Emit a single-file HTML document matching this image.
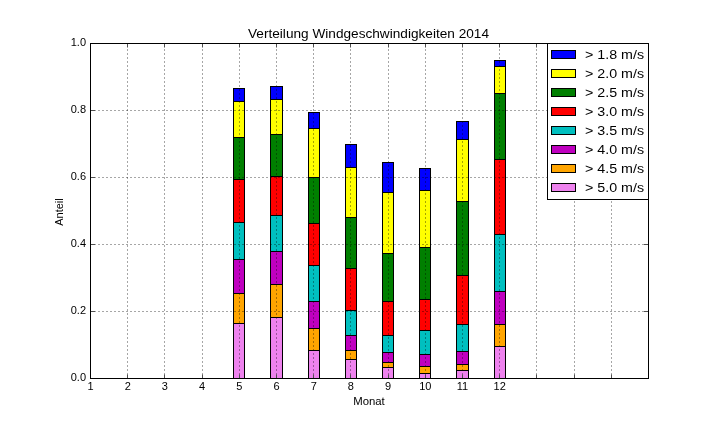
<!DOCTYPE html><html><head><meta charset="utf-8"><style>html,body{margin:0;padding:0;background:#fff;overflow:hidden}svg{display:block;will-change:transform}text{font-family:"Liberation Sans",sans-serif;fill:#000}</style></head><body>
<svg width="720" height="432" viewBox="0 0 720 432">
<rect x="0" y="0" width="720" height="432" fill="#fff"/>
<rect x="233.5" y="88.5" width="11.0" height="13.0" fill="#0000ff" stroke="#000" stroke-width="1"/>
<rect x="233.5" y="101.5" width="11.0" height="36.0" fill="#ffff00" stroke="#000" stroke-width="1"/>
<rect x="233.5" y="137.5" width="11.0" height="42.0" fill="#007f00" stroke="#000" stroke-width="1"/>
<rect x="233.5" y="179.5" width="11.0" height="43.0" fill="#ff0000" stroke="#000" stroke-width="1"/>
<rect x="233.5" y="222.5" width="11.0" height="37.0" fill="#00bfbf" stroke="#000" stroke-width="1"/>
<rect x="233.5" y="259.5" width="11.0" height="34.0" fill="#bf00bf" stroke="#000" stroke-width="1"/>
<rect x="233.5" y="293.5" width="11.0" height="30.0" fill="#ffa500" stroke="#000" stroke-width="1"/>
<rect x="233.5" y="323.5" width="11.0" height="55.0" fill="#ee82ee" stroke="#000" stroke-width="1"/>
<rect x="270.5" y="86.5" width="12.0" height="13.0" fill="#0000ff" stroke="#000" stroke-width="1"/>
<rect x="270.5" y="99.5" width="12.0" height="35.0" fill="#ffff00" stroke="#000" stroke-width="1"/>
<rect x="270.5" y="134.5" width="12.0" height="42.0" fill="#007f00" stroke="#000" stroke-width="1"/>
<rect x="270.5" y="176.5" width="12.0" height="39.0" fill="#ff0000" stroke="#000" stroke-width="1"/>
<rect x="270.5" y="215.5" width="12.0" height="36.0" fill="#00bfbf" stroke="#000" stroke-width="1"/>
<rect x="270.5" y="251.5" width="12.0" height="33.0" fill="#bf00bf" stroke="#000" stroke-width="1"/>
<rect x="270.5" y="284.5" width="12.0" height="33.0" fill="#ffa500" stroke="#000" stroke-width="1"/>
<rect x="270.5" y="317.5" width="12.0" height="61.0" fill="#ee82ee" stroke="#000" stroke-width="1"/>
<rect x="308.5" y="112.5" width="11.0" height="16.0" fill="#0000ff" stroke="#000" stroke-width="1"/>
<rect x="308.5" y="128.5" width="11.0" height="49.0" fill="#ffff00" stroke="#000" stroke-width="1"/>
<rect x="308.5" y="177.5" width="11.0" height="46.0" fill="#007f00" stroke="#000" stroke-width="1"/>
<rect x="308.5" y="223.5" width="11.0" height="42.0" fill="#ff0000" stroke="#000" stroke-width="1"/>
<rect x="308.5" y="265.5" width="11.0" height="36.0" fill="#00bfbf" stroke="#000" stroke-width="1"/>
<rect x="308.5" y="301.5" width="11.0" height="27.0" fill="#bf00bf" stroke="#000" stroke-width="1"/>
<rect x="308.5" y="328.5" width="11.0" height="22.0" fill="#ffa500" stroke="#000" stroke-width="1"/>
<rect x="308.5" y="350.5" width="11.0" height="28.0" fill="#ee82ee" stroke="#000" stroke-width="1"/>
<rect x="345.5" y="144.5" width="11.0" height="23.0" fill="#0000ff" stroke="#000" stroke-width="1"/>
<rect x="345.5" y="167.5" width="11.0" height="50.0" fill="#ffff00" stroke="#000" stroke-width="1"/>
<rect x="345.5" y="217.5" width="11.0" height="51.0" fill="#007f00" stroke="#000" stroke-width="1"/>
<rect x="345.5" y="268.5" width="11.0" height="42.0" fill="#ff0000" stroke="#000" stroke-width="1"/>
<rect x="345.5" y="310.5" width="11.0" height="25.0" fill="#00bfbf" stroke="#000" stroke-width="1"/>
<rect x="345.5" y="335.5" width="11.0" height="15.0" fill="#bf00bf" stroke="#000" stroke-width="1"/>
<rect x="345.5" y="350.5" width="11.0" height="9.0" fill="#ffa500" stroke="#000" stroke-width="1"/>
<rect x="345.5" y="359.5" width="11.0" height="19.0" fill="#ee82ee" stroke="#000" stroke-width="1"/>
<rect x="382.5" y="162.5" width="11.0" height="30.0" fill="#0000ff" stroke="#000" stroke-width="1"/>
<rect x="382.5" y="192.5" width="11.0" height="61.0" fill="#ffff00" stroke="#000" stroke-width="1"/>
<rect x="382.5" y="253.5" width="11.0" height="48.0" fill="#007f00" stroke="#000" stroke-width="1"/>
<rect x="382.5" y="301.5" width="11.0" height="34.0" fill="#ff0000" stroke="#000" stroke-width="1"/>
<rect x="382.5" y="335.5" width="11.0" height="17.0" fill="#00bfbf" stroke="#000" stroke-width="1"/>
<rect x="382.5" y="352.5" width="11.0" height="10.0" fill="#bf00bf" stroke="#000" stroke-width="1"/>
<rect x="382.5" y="362.5" width="11.0" height="5.0" fill="#ffa500" stroke="#000" stroke-width="1"/>
<rect x="382.5" y="367.5" width="11.0" height="11.0" fill="#ee82ee" stroke="#000" stroke-width="1"/>
<rect x="419.5" y="168.5" width="11.0" height="22.0" fill="#0000ff" stroke="#000" stroke-width="1"/>
<rect x="419.5" y="190.5" width="11.0" height="57.0" fill="#ffff00" stroke="#000" stroke-width="1"/>
<rect x="419.5" y="247.5" width="11.0" height="52.0" fill="#007f00" stroke="#000" stroke-width="1"/>
<rect x="419.5" y="299.5" width="11.0" height="31.0" fill="#ff0000" stroke="#000" stroke-width="1"/>
<rect x="419.5" y="330.5" width="11.0" height="24.0" fill="#00bfbf" stroke="#000" stroke-width="1"/>
<rect x="419.5" y="354.5" width="11.0" height="12.0" fill="#bf00bf" stroke="#000" stroke-width="1"/>
<rect x="419.5" y="366.5" width="11.0" height="7.0" fill="#ffa500" stroke="#000" stroke-width="1"/>
<rect x="419.5" y="373.5" width="11.0" height="5.0" fill="#ee82ee" stroke="#000" stroke-width="1"/>
<rect x="456.5" y="121.5" width="12.0" height="18.0" fill="#0000ff" stroke="#000" stroke-width="1"/>
<rect x="456.5" y="139.5" width="12.0" height="62.0" fill="#ffff00" stroke="#000" stroke-width="1"/>
<rect x="456.5" y="201.5" width="12.0" height="74.0" fill="#007f00" stroke="#000" stroke-width="1"/>
<rect x="456.5" y="275.5" width="12.0" height="49.0" fill="#ff0000" stroke="#000" stroke-width="1"/>
<rect x="456.5" y="324.5" width="12.0" height="27.0" fill="#00bfbf" stroke="#000" stroke-width="1"/>
<rect x="456.5" y="351.5" width="12.0" height="13.0" fill="#bf00bf" stroke="#000" stroke-width="1"/>
<rect x="456.5" y="364.5" width="12.0" height="6.0" fill="#ffa500" stroke="#000" stroke-width="1"/>
<rect x="456.5" y="370.5" width="12.0" height="8.0" fill="#ee82ee" stroke="#000" stroke-width="1"/>
<rect x="494.5" y="60.5" width="11.0" height="6.0" fill="#0000ff" stroke="#000" stroke-width="1"/>
<rect x="494.5" y="66.5" width="11.0" height="27.0" fill="#ffff00" stroke="#000" stroke-width="1"/>
<rect x="494.5" y="93.5" width="11.0" height="66.0" fill="#007f00" stroke="#000" stroke-width="1"/>
<rect x="494.5" y="159.5" width="11.0" height="75.0" fill="#ff0000" stroke="#000" stroke-width="1"/>
<rect x="494.5" y="234.5" width="11.0" height="57.0" fill="#00bfbf" stroke="#000" stroke-width="1"/>
<rect x="494.5" y="291.5" width="11.0" height="33.0" fill="#bf00bf" stroke="#000" stroke-width="1"/>
<rect x="494.5" y="324.5" width="11.0" height="22.0" fill="#ffa500" stroke="#000" stroke-width="1"/>
<rect x="494.5" y="346.5" width="11.0" height="32.0" fill="#ee82ee" stroke="#000" stroke-width="1"/>
<path d="M127.5 379V43.5 M164.5 379V43.5 M202.5 379V43.5 M239.5 379V43.5 M276.5 379V43.5 M313.5 379V43.5 M350.5 379V43.5 M388.5 379V43.5 M425.5 379V43.5 M462.5 379V43.5 M499.5 379V43.5 M536.5 379V43.5 M574.5 379V43.5 M611.5 379V43.5 M90 311.5H648.5 M90 244.5H648.5 M90 177.5H648.5 M90 110.5H648.5" stroke="#000" stroke-opacity="0.35" stroke-width="1" stroke-dasharray="2 2" fill="none"/>
<path d="M127.5 378.5v-4M127.5 43.5v4 M164.5 378.5v-4M164.5 43.5v4 M202.5 378.5v-4M202.5 43.5v4 M239.5 378.5v-4M239.5 43.5v4 M276.5 378.5v-4M276.5 43.5v4 M313.5 378.5v-4M313.5 43.5v4 M350.5 378.5v-4M350.5 43.5v4 M388.5 378.5v-4M388.5 43.5v4 M425.5 378.5v-4M425.5 43.5v4 M462.5 378.5v-4M462.5 43.5v4 M499.5 378.5v-4M499.5 43.5v4 M536.5 378.5v-4M536.5 43.5v4 M574.5 378.5v-4M574.5 43.5v4 M611.5 378.5v-4M611.5 43.5v4 M90.5 311.5h4.5M648.5 311.5h-4.5 M90.5 244.5h4.5M648.5 244.5h-4.5 M90.5 177.5h4.5M648.5 177.5h-4.5 M90.5 110.5h4.5M648.5 110.5h-4.5" stroke="#505050" stroke-width="1" fill="none"/>
<rect x="90.5" y="43.5" width="558.0" height="335.0" fill="none" stroke="#000" stroke-width="1"/>
<text x="86" y="381.1" font-size="11" text-anchor="end">0.0</text>
<text x="86" y="314.1" font-size="11" text-anchor="end">0.2</text>
<text x="86" y="247.1" font-size="11" text-anchor="end">0.4</text>
<text x="86" y="180.1" font-size="11" text-anchor="end">0.6</text>
<text x="86" y="113.1" font-size="11" text-anchor="end">0.8</text>
<text x="86" y="46.1" font-size="11" text-anchor="end">1.0</text>
<text x="90.50" y="390" font-size="11" text-anchor="middle">1</text>
<text x="127.70" y="390" font-size="11" text-anchor="middle">2</text>
<text x="164.90" y="390" font-size="11" text-anchor="middle">3</text>
<text x="202.10" y="390" font-size="11" text-anchor="middle">4</text>
<text x="239.30" y="390" font-size="11" text-anchor="middle">5</text>
<text x="276.50" y="390" font-size="11" text-anchor="middle">6</text>
<text x="313.70" y="390" font-size="11" text-anchor="middle">7</text>
<text x="350.90" y="390" font-size="11" text-anchor="middle">8</text>
<text x="388.10" y="390" font-size="11" text-anchor="middle">9</text>
<text x="425.30" y="390" font-size="11" text-anchor="middle">10</text>
<text x="462.50" y="390" font-size="11" text-anchor="middle">11</text>
<text x="499.70" y="390" font-size="11" text-anchor="middle">12</text>
<text x="368.5" y="38.2" font-size="12" text-anchor="middle" textLength="241" lengthAdjust="spacingAndGlyphs">Verteilung Windgeschwindigkeiten 2014</text>
<text x="369" y="405" font-size="11" text-anchor="middle" textLength="31.6" lengthAdjust="spacingAndGlyphs">Monat</text>
<text transform="translate(63.2 212) rotate(-90)" x="0" y="0" font-size="11" text-anchor="middle">Anteil</text>
<rect x="547.5" y="43.5" width="101" height="156" fill="#fff" stroke="#000" stroke-width="1"/>
<rect x="551.5" y="50.5" width="24" height="8" fill="#0000ff" stroke="#000" stroke-width="1"/>
<text x="585" y="59.20" font-size="12" textLength="59" lengthAdjust="spacingAndGlyphs">&gt; 1.8 m/s</text>
<rect x="551.5" y="69.5" width="24" height="8" fill="#ffff00" stroke="#000" stroke-width="1"/>
<text x="585" y="78.20" font-size="12" textLength="59" lengthAdjust="spacingAndGlyphs">&gt; 2.0 m/s</text>
<rect x="551.5" y="88.5" width="24" height="8" fill="#007f00" stroke="#000" stroke-width="1"/>
<text x="585" y="97.20" font-size="12" textLength="59" lengthAdjust="spacingAndGlyphs">&gt; 2.5 m/s</text>
<rect x="551.5" y="107.5" width="24" height="8" fill="#ff0000" stroke="#000" stroke-width="1"/>
<text x="585" y="116.20" font-size="12" textLength="59" lengthAdjust="spacingAndGlyphs">&gt; 3.0 m/s</text>
<rect x="551.5" y="126.5" width="24" height="8" fill="#00bfbf" stroke="#000" stroke-width="1"/>
<text x="585" y="135.20" font-size="12" textLength="59" lengthAdjust="spacingAndGlyphs">&gt; 3.5 m/s</text>
<rect x="551.5" y="145.5" width="24" height="8" fill="#bf00bf" stroke="#000" stroke-width="1"/>
<text x="585" y="154.20" font-size="12" textLength="59" lengthAdjust="spacingAndGlyphs">&gt; 4.0 m/s</text>
<rect x="551.5" y="164.5" width="24" height="8" fill="#ffa500" stroke="#000" stroke-width="1"/>
<text x="585" y="173.20" font-size="12" textLength="59" lengthAdjust="spacingAndGlyphs">&gt; 4.5 m/s</text>
<rect x="551.5" y="183.5" width="24" height="8" fill="#ee82ee" stroke="#000" stroke-width="1"/>
<text x="585" y="192.20" font-size="12" textLength="59" lengthAdjust="spacingAndGlyphs">&gt; 5.0 m/s</text>
</svg></body></html>
